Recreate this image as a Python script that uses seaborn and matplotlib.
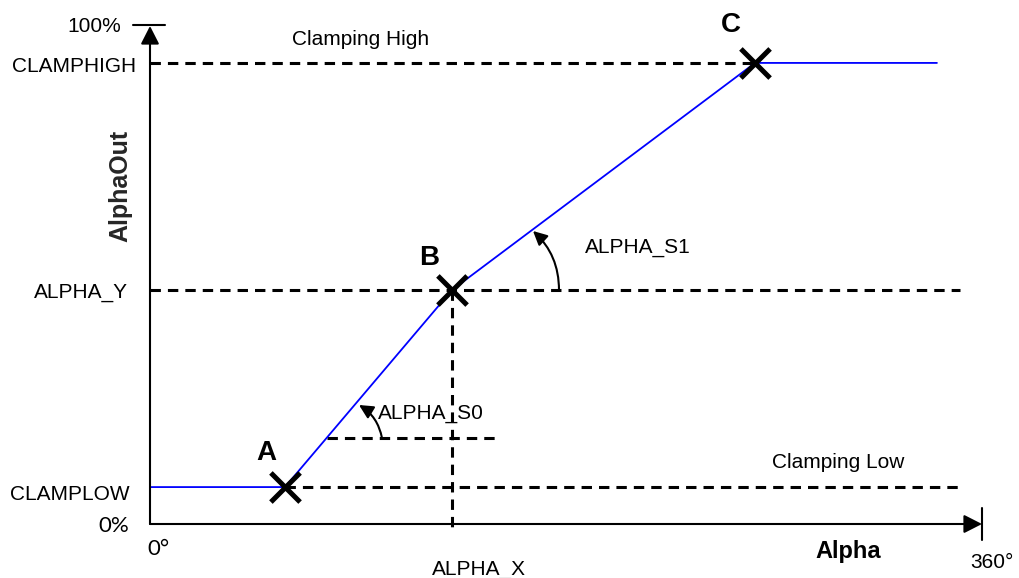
import numpy as np
import pandas as pd
import matplotlib
matplotlib.use("Agg")
import matplotlib.pyplot as plt
from matplotlib.markers import MarkerStyle
from matplotlib.patches import FancyArrowPatch
import seaborn as sns

# ---- data (Alpha in degrees, AlphaOut in percent) ----
point_names = ["A", "B", "C"]
point_x = [58.4, 130.7, 261.8]
clamp_low = 7.4
alpha_y = 46.9
clamp_high = 92.4
alpha_x = point_x[1]
curve_x = [0.0, point_x[0], point_x[1], point_x[2], 340.5]
curve_y = [clamp_low, clamp_low, alpha_y, clamp_high, clamp_high]
point_y = [clamp_low, alpha_y, clamp_high]
x_max = 360.0
y_max = 100.0

sns.set_style("white")
plt.rcParams["font.family"] = ["Liberation Sans", "DejaVu Sans"]

W, H = 1019, 578
fig = plt.figure(figsize=(W / 100, H / 100), dpi=100)
ax = fig.add_axes([0, 0, 1, 1])

# pixel -> data helpers (for placing annotation text)
KX = (982 - 150) / x_max
KY = (524 - 25) / y_max
def X(px):
    return (px - 150) / KX
def Y(py):
    return (524 - py) / KY

ax.set_xlim(X(0), X(W))
ax.set_ylim(Y(H), Y(0))
ax.axis("off")

dash_kw = dict(color="black", lw=2.2, dashes=(3.4, 2.3), zorder=2)

# dashed reference lines
ax.plot([0, point_x[2]], [clamp_high, clamp_high], **dash_kw)
ax.plot([0, X(960)], [alpha_y, alpha_y], **dash_kw)
ax.plot([point_x[0], X(960)], [clamp_low, clamp_low], **dash_kw)
ax.plot([alpha_x, alpha_x], [alpha_y, Y(528)], **dash_kw)
# slope S0 reference
s0 = (alpha_y - clamp_low) / (point_x[1] - point_x[0])
s0_y = Y(438)
s0_x = point_x[0] + (s0_y - clamp_low) / s0
ax.plot([s0_x, X(497)], [s0_y, s0_y], **dash_kw)

# blue characteristic curve
df = pd.DataFrame({"x": curve_x, "y": curve_y})
sns.lineplot(data=df, x="x", y="y", sort=False, color="#0000FF", lw=1.3,
             ax=ax, zorder=3, legend=False)

# axes arrows
ax.annotate("", xy=(0, Y(26)), xytext=(0, 0),
            arrowprops=dict(arrowstyle="-|>,head_length=0.55,head_width=0.28",
                            mutation_scale=20, lw=1.5, color="black",
                            shrinkA=0, shrinkB=0), zorder=4)
ax.annotate("", xy=(X(982), 0), xytext=(0, 0),
            arrowprops=dict(arrowstyle="-|>,head_length=0.55,head_width=0.28",
                            mutation_scale=20, lw=1.5, color="black",
                            shrinkA=0, shrinkB=0), zorder=4)
ax.plot([X(133), X(165)], [y_max, y_max], color="black", lw=1.5)
ax.plot([x_max, x_max], [Y(508), Y(540)], color="black", lw=1.5)

# markers
pts = pd.DataFrame({"x": point_x, "y": point_y})
sns.scatterplot(data=pts, x="x", y="y", marker=MarkerStyle("x", capstyle="round"),
                s=21 ** 2, color="black", linewidth=3.6, ax=ax, zorder=5,
                legend=False)

# slope arcs
for base, tip in [((X(382), s0_y), (X(359), Y(405))),
                  ((X(559), alpha_y), (X(533), Y(231)))]:
    arr = FancyArrowPatch(base, tip, connectionstyle="arc3,rad=0.22",
                          arrowstyle="-|>,head_length=0.6,head_width=0.3",
                          mutation_scale=14, lw=1.5, color="black",
                          shrinkA=0, shrinkB=0, zorder=4)
    ax.add_patch(arr)

fs = 15
def t(px, py, s, ha="left", **kw):
    kw.setdefault("fontsize", fs)
    ax.text(X(px), Y(py), s, ha=ha, va="baseline", color="black", **kw)

t(121, 32, "100%", ha="right")
t(136, 72, "CLAMPHIGH", ha="right")
t(128, 298, "ALPHA_Y", ha="right")
t(130, 500, "CLAMPLOW", ha="right")
t(129, 532, "0%", ha="right", family=["Lato", "DejaVu Sans"], fontsize=16)
t(158, 555, "0°", ha="center", family=["Lato", "DejaVu Sans"], fontsize=16)
t(432, 575, "ALPHA_X")
t(992, 568, "360°", ha="center")
t(848, 558, "Alpha", ha="center", fontweight="bold", fontsize=17)
ax.text(X(120), Y(186), "AlphaOut", rotation=90, ha="center", va="center",
        fontweight="bold", fontsize=18)
t(292, 45, "Clamping High")
t(772, 468, "Clamping Low")
t(585, 253, "ALPHA_S1")
t(378, 419, "ALPHA_S0")
for name, px, py in zip(point_names, [266, 429, 731], [460, 265, 32]):
    t(px, py, name, ha="center", fontweight="bold", fontsize=20)

fig.savefig("out.png", dpi=100)
